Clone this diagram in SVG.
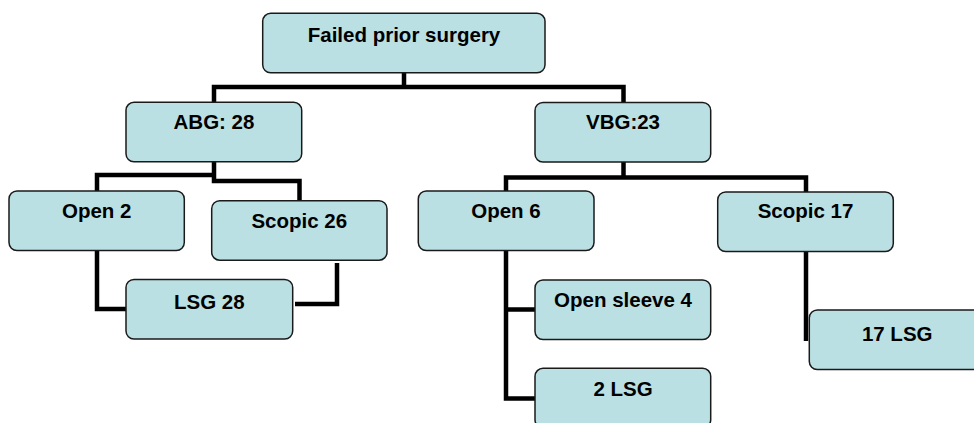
<svg xmlns="http://www.w3.org/2000/svg" width="974" height="423" viewBox="0 0 974 423">
<style>
.box{fill:#BBE0E3;stroke:#1a1a1a;stroke-width:1.5}
.lbl{font-family:"Liberation Sans",Arial,sans-serif;font-weight:bold;font-size:20.5px;fill:#000;text-anchor:middle}
.con{fill:none;stroke:#000;stroke-width:4.5;stroke-linecap:butt;stroke-linejoin:miter}
</style>
<rect width="974" height="423" fill="#fff"/>
<g id="connectors">
<path class="con" d="M404,73 V87 M214,102 V87 H623.5 V102"/>
<path class="con" d="M214,162 V175 H97 V191 M214,175 V181 H299.5 V200.5"/>
<path class="con" d="M97,250.5 V309 H126"/>
<path class="con" d="M295,304 H337 V263"/>
<path class="con" d="M623.5,162 V177.5 H506 V191 M623.5,177.5 H806 V192"/>
<path class="con" d="M506,250.5 V398.5 H535 M506,309.5 H535"/>
<path class="con" d="M806,251.5 V341"/>
</g>
<g id="n-failed"><rect class="box" x="262.7" y="13.3" width="282.3" height="59.5" rx="8"/><text class="lbl" x="404" y="42">Failed prior surgery</text></g>
<g id="n-abg"><rect class="box" x="126" y="102.3" width="175.7" height="59.5" rx="8"/><text class="lbl" x="214" y="128.5">ABG: 28</text></g>
<g id="n-vbg"><rect class="box" x="535" y="102.5" width="175.7" height="59.5" rx="8"/><text class="lbl" x="623" y="129">VBG:23</text></g>
<g id="n-open2"><rect class="box" x="9" y="191" width="175.3" height="59.5" rx="8"/><text class="lbl" x="96.7" y="218">Open 2</text></g>
<g id="n-scopic26"><rect class="box" x="211.7" y="200.7" width="175.3" height="59.5" rx="8"/><text class="lbl" x="299.3" y="228">Scopic 26</text></g>
<g id="n-lsg28"><rect class="box" x="126" y="279.5" width="166.7" height="59.5" rx="8"/><text class="lbl" x="209.3" y="309">LSG 28</text></g>
<g id="n-open6"><rect class="box" x="418.3" y="191" width="175.7" height="59.5" rx="8"/><text class="lbl" x="506" y="217.5">Open 6</text></g>
<g id="n-scopic17"><rect class="box" x="717.7" y="192" width="175.6" height="59.5" rx="8"/><text class="lbl" x="805.5" y="218">Scopic 17</text></g>
<g id="n-opensleeve4"><rect class="box" x="535" y="280" width="175.7" height="59.5" rx="8"/><text class="lbl" x="623" y="307">Open sleeve 4</text></g>
<g id="n-2lsg"><rect class="box" x="535" y="368.3" width="175.7" height="59.5" rx="8"/><text class="lbl" x="623" y="395.5">2 LSG</text></g>
<g id="n-17lsg"><rect class="box" x="809.3" y="310" width="175.7" height="59.5" rx="8"/><text class="lbl" x="897.2" y="340.5">17 LSG</text></g>
</svg>
